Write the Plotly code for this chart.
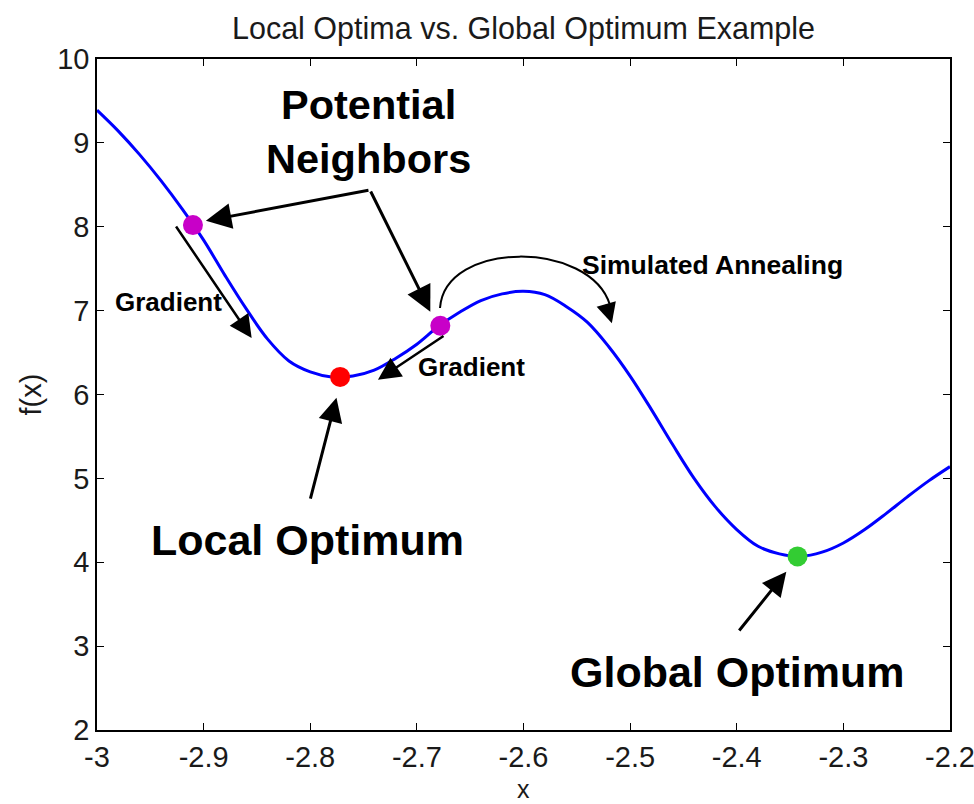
import plotly.graph_objects as go

# ---------------- data ----------------
curve_x = [-3.00, -2.98, -2.96, -2.94, -2.92, -2.90, -2.88, -2.86, -2.84, -2.82,
           -2.80, -2.78, -2.76, -2.74, -2.72, -2.70, -2.68, -2.66, -2.64, -2.62,
           -2.60, -2.58, -2.56, -2.54, -2.52, -2.50, -2.48, -2.46, -2.44, -2.42,
           -2.40, -2.38, -2.36, -2.34, -2.32, -2.30, -2.28, -2.26, -2.24, -2.22,
           -2.20]
curve_y = [9.39, 9.14, 8.86, 8.55, 8.21, 7.84, 7.42, 7.02, 6.66, 6.40,
           6.27, 6.21, 6.22, 6.29, 6.43, 6.60, 6.81, 6.98, 7.12, 7.20,
           7.23, 7.19, 7.05, 6.86, 6.57, 6.22, 5.82, 5.40, 5.00, 4.66,
           4.39, 4.19, 4.10, 4.07, 4.12, 4.23, 4.39, 4.58, 4.78, 4.97,
           5.14]

neighbor_x = [-2.910, -2.678]
neighbor_y = [8.02, 6.82]
local_x = [-2.772]
local_y = [6.21]
global_x = [-2.343]
global_y = [4.07]

x_tickvals = [-3.0, -2.9, -2.8, -2.7, -2.6, -2.5, -2.4, -2.3, -2.2]
x_ticktext = ["-3", "-2.9", "-2.8", "-2.7", "-2.6", "-2.5", "-2.4", "-2.3", "-2.2"]
y_tickvals = [2, 3, 4, 5, 6, 7, 8, 9, 10]
y_ticktext = ["2", "3", "4", "5", "6", "7", "8", "9", "10"]

title_text = "Local Optima vs. Global Optimum Example"
x_label = "x"
y_label = "f(x)"

# ---------------- figure ----------------
AX_FONT = dict(family="Liberation Sans, Arial, sans-serif", size=29, color="#1a1a1a")
XLAB_FONT = dict(family="Liberation Sans, Arial, sans-serif", size=25, color="#1a1a1a")
TITLE_FONT = dict(family="Liberation Sans, Arial, sans-serif", size=30.5, color="#1a1a1a")
BOLD = "Liberation Sans, Arial, sans-serif"

fig = go.Figure()
fig.add_trace(go.Scatter(x=curve_x, y=curve_y, mode="lines",
                         line=dict(color="#0000ff", width=3, shape="spline", smoothing=1.0),
                         showlegend=False, hoverinfo="skip"))
fig.add_trace(go.Scatter(x=neighbor_x, y=neighbor_y, mode="markers",
                         marker=dict(color="#c800c8", size=20), showlegend=False))
fig.add_trace(go.Scatter(x=local_x, y=local_y, mode="markers",
                         marker=dict(color="#ff0000", size=20), showlegend=False))
fig.add_trace(go.Scatter(x=global_x, y=global_y, mode="markers",
                         marker=dict(color="#33cc33", size=20), showlegend=False))

annotations = []

def arrow(tail, head, width=3, size=1.7, standoff=6):
    annotations.append(dict(x=head[0], y=head[1], ax=tail[0], ay=tail[1],
                            xref="x", yref="y", axref="x", ayref="y",
                            text="", showarrow=True, arrowhead=2,
                            arrowsize=size, arrowwidth=width, arrowcolor="black",
                            standoff=standoff))

def label(text, pos, size):
    annotations.append(dict(x=pos[0], y=pos[1], xref="x", yref="y", text=text,
                            showarrow=False, xanchor="center", yanchor="middle",
                            font=dict(family=BOLD, size=size, color="black", weight="bold")))

# Potential neighbors arrows (common tail)
arrow((-2.744, 8.438), (-2.9034, 8.057))
arrow((-2.744, 8.438), (-2.6849, 6.924))
# Gradient arrows
arrow((-2.9268, 8.021), (-2.8518, 6.614), width=2.5, size=1.8)
arrow((-2.6736, 6.709), (-2.7412, 6.137), width=2.5, size=1.8)
# Local / global optimum arrows
arrow((-2.8002, 4.742), (-2.774, 6.030), width=3, size=1.6)
arrow((-2.3988, 3.168), (-2.350, 3.943), width=3, size=1.6)
# simulated annealing arrow head
annotations.append(dict(x=-2.5161, y=6.805, xref="x", yref="y", ax=-7, ay=-24,
                        text="", showarrow=True, arrowhead=2, arrowsize=2.0,
                        arrowwidth=2, arrowcolor="black", standoff=4))

label("Potential<br>Neighbors", (-2.7458, 9.14), 41.5)
label("Local Optimum", (-2.803, 4.265), 43)
label("Global Optimum", (-2.3998, 2.692), 43)
label("Gradient", (-2.9334, 7.103), 26)
label("Gradient", (-2.6492, 6.328), 26)
label("Simulated Annealing", (-2.4232, 7.544), 26.5)

# axis titles placed as paper-referenced annotations
annotations.append(dict(text=x_label, xref="paper", yref="paper", x=0.5, y=-0.1103,
                        xanchor="center", yanchor="bottom", borderpad=0,
                        showarrow=False, font=XLAB_FONT))
annotations.append(dict(text=y_label, xref="paper", yref="paper", x=-0.0785, y=0.5,
                        xanchor="center", yanchor="middle", textangle=-90,
                        showarrow=False, font=AX_FONT))

fig.add_shape(type="path",
              path="M -2.6783,7.031 C -2.6736,7.842 -2.5376,7.842 -2.5189,7.067",
              xref="x", yref="y", line=dict(color="black", width=2))

axis_common = dict(showline=True, linecolor="black", linewidth=1.5, mirror="ticks",
                   ticks="inside", ticklen=7, tickwidth=1.2, tickcolor="black",
                   showgrid=False, zeroline=False, tickfont=AX_FONT,
                   automargin=False, ticklabeloverflow="allow")

fig.update_layout(
    width=974, height=804,
    margin=dict(l=97, r=24, t=59, b=74),
    paper_bgcolor="white", plot_bgcolor="white",
    title=dict(text=title_text, x=0.5375, xanchor="center", y=1 - 28 / 804,
               yanchor="middle", yref="container", font=TITLE_FONT),
    xaxis=dict(range=[-3, -2.2], tickvals=x_tickvals, ticktext=x_ticktext, **axis_common),
    yaxis=dict(range=[2, 10], tickvals=y_tickvals, ticktext=y_ticktext, **axis_common),
    annotations=annotations,
)

fig.write_html("out.html", config={"displayModeBar": False},
               post_script="document.body.style.margin='0';document.body.style.overflow='hidden';")
